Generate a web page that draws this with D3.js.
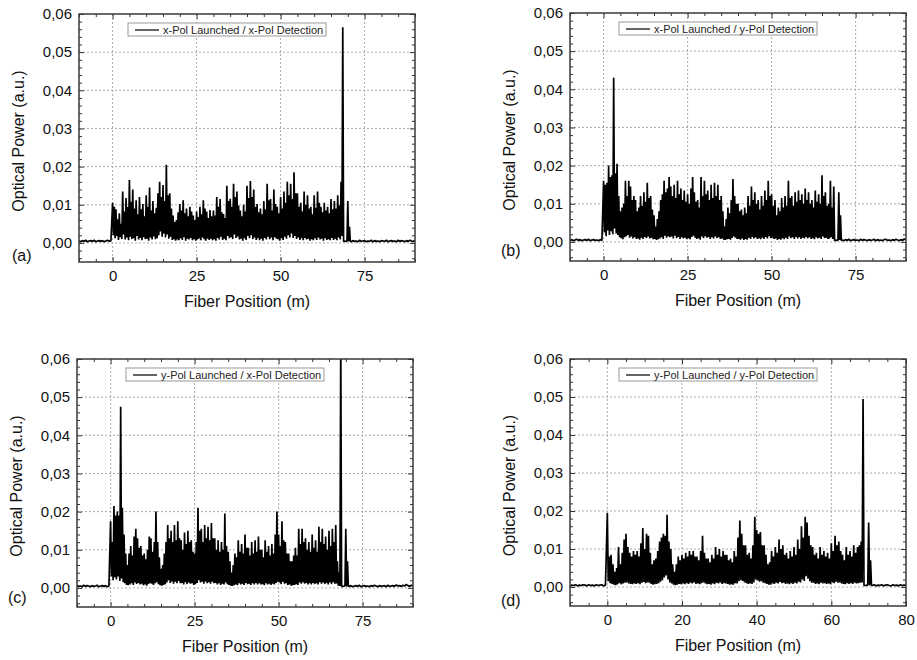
<!DOCTYPE html>
<html><head><meta charset="utf-8">
<script src="https://cdn.jsdelivr.net/npm/d3@7"></script>
<style>
body{margin:0;background:#fff;}
svg{display:block;font-family:"Liberation Sans",Arial,sans-serif;}
.grid line{stroke:#a8a8a8;stroke-width:1;stroke-dasharray:2,2;}
.ax path{stroke:none;}
.ax line{stroke:#333;stroke-width:1;}
.ax text{font-size:15px;fill:#111;}
</style></head><body>
<svg id="c" width="917" height="660"></svg>
<script>
// ---------- data ----------
const panelLabels = ["(a)", "(b)", "(c)", "(d)"];
const legendTexts = [
  "x-Pol Launched / x-Pol Detection",
  "x-Pol Launched / y-Pol Detection",
  "y-Pol Launched / x-Pol Detection",
  "y-Pol Launched / y-Pol Detection"
];
const xTitle = "Fiber Position (m)";
const yTitle = "Optical Power (a.u.)";
const yTicks = [0, 0.01, 0.02, 0.03, 0.04, 0.05, 0.06];
const xTicksABC = [0, 25, 50, 75];
const xTicksD = [0, 20, 40, 60, 80];
const xDomainABC = [-10, 90];
const xDomainD = [-10, 80];
const yDomain = [-0.005, 0.06];

// fiber trace: peaks sampled every 0.5 m from 0 m, troughs in between (0.25 m offset)
const peaksA = [
.0105,.0095,.0088,.0062,.0078,.0050,.0135,.0082,.0118,.0094,
.0165,.0108,.0140,.0090,.0112,.0075,.0120,.0088,.0102,.0070,
.0125,.0095,.0145,.0085,.0110,.0078,.0092,.0130,.0160,.0120,
.0152,.0110,.0205,.0125,.0130,.0090,.0072,.0055,.0060,.0080,
.0102,.0085,.0112,.0078,.0090,.0070,.0095,.0082,.0072,.0060,
.0082,.0068,.0095,.0075,.0112,.0090,.0082,.0065,.0086,.0070,
.0085,.0072,.0120,.0095,.0115,.0080,.0076,.0065,.0150,.0110,
.0116,.0095,.0155,.0120,.0135,.0098,.0085,.0070,.0100,.0082,
.0150,.0118,.0162,.0120,.0140,.0095,.0102,.0080,.0090,.0075,
.0110,.0088,.0155,.0112,.0115,.0085,.0140,.0102,.0095,.0078,
.0120,.0090,.0135,.0105,.0160,.0125,.0155,.0115,.0185,.0130,
.0130,.0095,.0105,.0082,.0135,.0100,.0125,.0090,.0095,.0075,
.0125,.0092,.0135,.0105,.0095,.0080,.0105,.0085,.0095,.0078,
.0115,.0088,.0110,.0090,.0125,.0098,.0160,.0565,.0005,.0004,
.0110,.0042];
const troughsA = [
.0020,.0012,.0018,.0008,.0015,.0010,.0022,.0009,.0014,.0007,
.0016,.0010,.0012,.0006,.0018,.0009,.0013,.0007,.0015,.0010,
.0011,.0006,.0014,.0009,.0017,.0010,.0012,.0020,.0030,.0016,
.0025,.0014,.0022,.0011,.0016,.0008,.0010,.0006,.0009,.0007,
.0012,.0008,.0015,.0006,.0011,.0009,.0013,.0007,.0010,.0006,
.0009,.0012,.0007,.0014,.0010,.0006,.0012,.0008,.0011,.0007,
.0010,.0006,.0013,.0009,.0016,.0008,.0011,.0007,.0018,.0012,
.0015,.0010,.0022,.0013,.0017,.0009,.0011,.0006,.0012,.0008,
.0018,.0012,.0020,.0010,.0014,.0008,.0012,.0007,.0011,.0006,
.0013,.0009,.0016,.0010,.0014,.0007,.0015,.0011,.0010,.0006,
.0012,.0008,.0016,.0011,.0020,.0014,.0025,.0013,.0018,.0010,
.0014,.0008,.0012,.0007,.0013,.0009,.0011,.0006,.0010,.0007,
.0012,.0008,.0014,.0009,.0011,.0006,.0012,.0008,.0010,.0007,
.0013,.0008,.0011,.0007,.0014,.0009,.0018,.0004,.0004,.0005,
.0004,.0005];
const preA = [.0005,.0003,.0006,.0004,.0007,.0003,.0005,.0006,.0004,.0007,.0003,.0005,.0006,.0004,.0006,.0003,.0005,.0007,.0004,.0006];
const postA = [.0003,.0006,.0004,.0005,.0003,.0007,.0004,.0005,.0006,.0003,.0005,.0004,.0007,.0003,.0006,.0004,.0005,.0003,.0006,.0005,.0004,.0007,.0003,.0005,.0006,.0004,.0005,.0003,.0007,.0004,.0006,.0005,.0003,.0006,.0004,.0007,.0005,.0004,.0006];

const peaksB = [
.0160,.0150,.0155,.0200,.0170,.0175,.0430,.0180,.0205,.0120,
.0080,.0090,.0100,.0160,.0120,.0160,.0145,.0110,.0120,.0110,
.0080,.0090,.0120,.0095,.0130,.0105,.0155,.0115,.0120,.0085,
.0070,.0040,.0060,.0080,.0110,.0125,.0160,.0130,.0140,.0170,
.0145,.0120,.0150,.0115,.0160,.0125,.0140,.0110,.0135,.0105,
.0125,.0100,.0140,.0170,.0130,.0105,.0110,.0090,.0170,.0120,
.0160,.0125,.0135,.0110,.0150,.0115,.0155,.0120,.0150,.0110,
.0120,.0080,.0040,.0060,.0090,.0075,.0110,.0165,.0120,.0100,
.0100,.0080,.0085,.0070,.0090,.0075,.0120,.0095,.0145,.0110,
.0130,.0100,.0110,.0085,.0120,.0095,.0135,.0110,.0160,.0120,
.0125,.0095,.0110,.0070,.0090,.0080,.0115,.0090,.0120,.0095,
.0160,.0115,.0120,.0095,.0130,.0105,.0135,.0110,.0125,.0100,
.0140,.0110,.0130,.0100,.0110,.0090,.0135,.0105,.0125,.0100,
.0175,.0120,.0130,.0095,.0100,.0160,.0090,.0145,.0004,.0005,
.0130,.0070];
const troughsB = [
.0025,.0015,.0030,.0018,.0028,.0020,.0035,.0022,.0018,.0012,
.0010,.0007,.0012,.0015,.0018,.0011,.0014,.0009,.0012,.0008,
.0009,.0006,.0011,.0008,.0013,.0010,.0014,.0009,.0011,.0007,
.0008,.0005,.0007,.0009,.0012,.0008,.0016,.0011,.0015,.0012,
.0014,.0009,.0016,.0010,.0013,.0008,.0012,.0009,.0011,.0007,
.0010,.0007,.0013,.0016,.0011,.0008,.0010,.0006,.0014,.0010,
.0015,.0011,.0013,.0008,.0012,.0009,.0014,.0010,.0012,.0008,
.0009,.0006,.0005,.0007,.0008,.0006,.0010,.0014,.0011,.0008,
.0008,.0006,.0009,.0005,.0008,.0006,.0011,.0008,.0013,.0009,
.0012,.0008,.0010,.0007,.0011,.0008,.0013,.0009,.0015,.0010,
.0011,.0008,.0009,.0005,.0008,.0006,.0010,.0007,.0011,.0008,
.0014,.0010,.0012,.0008,.0013,.0009,.0012,.0008,.0011,.0009,
.0013,.0009,.0012,.0008,.0010,.0007,.0012,.0009,.0011,.0008,
.0014,.0010,.0011,.0008,.0009,.0012,.0008,.0004,.0004,.0004,
.0005,.0004];
const preB = [.0004,.0006,.0003,.0005,.0007,.0004,.0006,.0003,.0005,.0006,.0004,.0007,.0003,.0005,.0006,.0004,.0005,.0003,.0006,.0004];
const postB = [.0005,.0003,.0006,.0004,.0007,.0003,.0005,.0006,.0004,.0005,.0003,.0007,.0004,.0006,.0005,.0003,.0006,.0004,.0005,.0007,.0003,.0006,.0004,.0005,.0003,.0006,.0007,.0004,.0005,.0003,.0006,.0004,.0007,.0005,.0003,.0006,.0004,.0008,.0005];

const peaksC = [
.0175,.0120,.0215,.0190,.0200,.0190,.0475,.0210,.0140,.0090,
.0060,.0090,.0110,.0085,.0135,.0155,.0130,.0105,.0110,.0085,
.0090,.0075,.0100,.0135,.0130,.0095,.0120,.0200,.0120,.0080,
.0050,.0060,.0090,.0120,.0165,.0130,.0150,.0120,.0165,.0125,
.0175,.0130,.0125,.0100,.0145,.0115,.0150,.0120,.0125,.0095,
.0090,.0120,.0210,.0150,.0155,.0120,.0165,.0130,.0160,.0125,
.0170,.0130,.0130,.0100,.0125,.0095,.0120,.0100,.0195,.0110,
.0095,.0070,.0040,.0060,.0090,.0080,.0125,.0095,.0115,.0090,
.0140,.0105,.0105,.0085,.0120,.0090,.0125,.0095,.0135,.0100,
.0100,.0080,.0125,.0095,.0110,.0085,.0115,.0090,.0140,.0200,
.0140,.0110,.0175,.0125,.0120,.0090,.0090,.0070,.0070,.0085,
.0105,.0085,.0155,.0115,.0155,.0120,.0130,.0100,.0120,.0095,
.0140,.0105,.0125,.0095,.0160,.0120,.0155,.0115,.0135,.0100,
.0150,.0110,.0155,.0120,.0165,.0070,.0040,.0650,.0004,.0005,
.0155,.0070];
const troughsC = [
.0030,.0020,.0028,.0022,.0030,.0018,.0025,.0015,.0012,.0008,
.0007,.0009,.0012,.0008,.0014,.0010,.0013,.0009,.0011,.0007,
.0009,.0006,.0010,.0012,.0011,.0008,.0012,.0015,.0010,.0007,
.0006,.0008,.0010,.0014,.0020,.0013,.0017,.0011,.0016,.0012,
.0018,.0012,.0013,.0009,.0015,.0010,.0014,.0011,.0012,.0008,
.0010,.0013,.0020,.0014,.0016,.0011,.0017,.0012,.0015,.0011,
.0016,.0012,.0013,.0009,.0012,.0008,.0011,.0009,.0014,.0010,
.0008,.0006,.0005,.0007,.0009,.0007,.0012,.0009,.0011,.0008,
.0013,.0010,.0011,.0008,.0012,.0009,.0013,.0009,.0012,.0009,
.0010,.0007,.0012,.0009,.0011,.0008,.0011,.0009,.0013,.0016,
.0014,.0010,.0016,.0011,.0012,.0008,.0009,.0006,.0007,.0008,
.0010,.0008,.0014,.0011,.0015,.0011,.0013,.0009,.0012,.0009,
.0013,.0010,.0012,.0009,.0015,.0011,.0014,.0010,.0013,.0009,
.0014,.0010,.0015,.0011,.0012,.0006,.0005,.0004,.0004,.0005,
.0004,.0005];
const preC = [.0006,.0004,.0005,.0003,.0007,.0004,.0006,.0005,.0003,.0006,.0004,.0005,.0007,.0003,.0005,.0006,.0004,.0006,.0003,.0005];
const postC = [.0004,.0006,.0003,.0005,.0006,.0004,.0007,.0003,.0005,.0006,.0004,.0005,.0003,.0006,.0004,.0007,.0005,.0003,.0006,.0004,.0005,.0006,.0003,.0007,.0004,.0005,.0006,.0004,.0008,.0005,.0006,.0004,.0007,.0005,.0009,.0006,.0004,.0007,.0005];

const peaksD = [
.0195,.0080,.0085,.0060,.0040,.0050,.0105,.0060,.0090,.0125,
.0140,.0105,.0090,.0080,.0095,.0085,.0095,.0080,.0115,.0155,
.0100,.0140,.0135,.0090,.0060,.0070,.0075,.0095,.0120,.0130,
.0140,.0135,.0190,.0120,.0100,.0060,.0040,.0060,.0080,.0070,
.0085,.0075,.0090,.0080,.0095,.0085,.0095,.0080,.0080,.0070,
.0095,.0135,.0090,.0075,.0075,.0065,.0085,.0075,.0105,.0085,
.0100,.0080,.0095,.0085,.0085,.0070,.0075,.0065,.0095,.0080,
.0130,.0175,.0140,.0110,.0110,.0085,.0090,.0075,.0110,.0185,
.0150,.0140,.0145,.0110,.0110,.0085,.0060,.0065,.0095,.0080,
.0105,.0090,.0125,.0100,.0110,.0085,.0090,.0075,.0095,.0080,
.0105,.0085,.0125,.0100,.0160,.0130,.0185,.0170,.0135,.0110,
.0105,.0085,.0090,.0075,.0105,.0085,.0095,.0080,.0090,.0075,
.0115,.0095,.0135,.0110,.0120,.0095,.0085,.0070,.0105,.0085,
.0095,.0080,.0110,.0090,.0105,.0110,.0120,.0495,.0004,.0005,
.0170,.0070];
const troughsD = [
.0015,.0010,.0008,.0006,.0005,.0007,.0010,.0007,.0009,.0011,
.0012,.0009,.0008,.0007,.0009,.0008,.0010,.0007,.0011,.0013,
.0010,.0012,.0011,.0008,.0006,.0007,.0008,.0010,.0014,.0018,
.0025,.0030,.0020,.0012,.0009,.0006,.0005,.0006,.0008,.0007,
.0009,.0007,.0010,.0008,.0011,.0009,.0012,.0008,.0009,.0007,
.0010,.0012,.0009,.0007,.0008,.0006,.0009,.0007,.0011,.0009,
.0012,.0008,.0010,.0009,.0008,.0006,.0007,.0006,.0010,.0009,
.0015,.0018,.0016,.0012,.0010,.0008,.0009,.0008,.0012,.0020,
.0017,.0014,.0015,.0011,.0010,.0008,.0006,.0006,.0009,.0008,
.0011,.0009,.0013,.0010,.0011,.0008,.0009,.0007,.0010,.0008,
.0011,.0009,.0014,.0012,.0020,.0016,.0028,.0022,.0015,.0011,
.0011,.0008,.0009,.0007,.0011,.0009,.0010,.0008,.0009,.0007,
.0012,.0010,.0014,.0011,.0012,.0009,.0008,.0007,.0010,.0008,
.0010,.0008,.0011,.0009,.0010,.0011,.0012,.0004,.0004,.0005,
.0004,.0005];
const preD = [.0003,.0005,.0004,.0006,.0003,.0005,.0004,.0006,.0005,.0003,.0006,.0004,.0005,.0003,.0006,.0004,.0005,.0006,.0003,.0005];
const postD = [.0004,.0006,.0003,.0005,.0004,.0006,.0003,.0005,.0006,.0004,.0003,.0006,.0004,.0005,.0003,.0006,.0004,.0005,.0004];

// ---------- drawing ----------
const svg = d3.select("#c");
const fmt = d3.formatLocale({decimal: ",", thousands: ".", grouping: [3], currency: ["", ""]}).format(".2f");

const panels = [
  {left: 79, top: 14, w: 336, h: 248, lab: [12, 261], pre: preA, peaks: peaksA, troughs: troughsA, post: postA, xd: xDomainABC, xt: xTicksABC},
  {left: 570, top: 13, w: 336, h: 248, lab: [501, 256], pre: preB, peaks: peaksB, troughs: troughsB, post: postB, xd: xDomainABC, xt: xTicksABC},
  {left: 77, top: 359, w: 336, h: 248, lab: [8, 603], pre: preC, peaks: peaksC, troughs: troughsC, post: postC, xd: xDomainABC, xt: xTicksABC},
  {left: 570, top: 359, w: 336, h: 247, lab: [501, 606], pre: preD, peaks: peaksD, troughs: troughsD, post: postD, xd: xDomainD, xt: xTicksD}
];

function buildSeries(p) {
  const pts = [];
  p.pre.forEach((v, i) => pts.push([-10 + i * 0.5, v]));
  p.peaks.forEach((v, i) => {
    pts.push([i * 0.5, v]);
    if (i < p.troughs.length) pts.push([i * 0.5 + 0.25, p.troughs[i]]);
  });
  p.post.forEach((v, i) => pts.push([71 + i * 0.5, v]));
  return pts;
}

panels.forEach((p, k) => {
  const g = svg.append("g").attr("transform", `translate(${p.left},${p.top})`);
  const x = d3.scaleLinear().domain(p.xd).range([0, p.w]);
  const y = d3.scaleLinear().domain(yDomain).range([p.h, 0]);

  const majorX = p.xt;
  const minorX = d3.range(p.xd[0], p.xd[1] + 0.001, 5).filter(v => !majorX.includes(v));
  const minorY = d3.range(-0.004, 0.0595, 0.002).filter(v => Math.abs(Math.round(v * 100) - v * 100) > 1e-6);

  // grid
  const grid = g.append("g").attr("class", "grid");
  grid.selectAll(".gx").data(majorX.filter(v => v > p.xd[0] && v < p.xd[1])).join("line")
    .attr("x1", d => x(d)).attr("x2", d => x(d)).attr("y1", 0).attr("y2", p.h);
  grid.selectAll(".gy").data(yTicks.filter(v => v < yDomain[1])).join("line")
    .attr("x1", 0).attr("x2", p.w).attr("y1", d => y(d)).attr("y2", d => y(d));

  // data
  const cid = "clip" + k;
  g.append("clipPath").attr("id", cid).append("rect").attr("width", p.w).attr("height", p.h);
  const line = d3.line().x(d => x(d[0])).y(d => y(d[1]));
  g.append("path").datum(buildSeries(p)).attr("clip-path", `url(#${cid})`)
    .attr("fill", "none").attr("stroke", "#000").attr("stroke-width", 1.7)
    .attr("stroke-linejoin", "bevel").attr("d", line);

  // axes: major (labels on bottom/left), minor ticks, all inward
  g.append("g").attr("class", "ax").attr("transform", `translate(0,${p.h})`)
    .call(d3.axisBottom(x).tickValues(majorX).tickSize(-5).tickPadding(8).tickFormat(d3.format("d")));
  g.append("g").attr("class", "ax").attr("transform", `translate(0,${p.h})`)
    .call(d3.axisBottom(x).tickValues(minorX).tickSize(-3).tickFormat(""));
  g.append("g").attr("class", "ax")
    .call(d3.axisTop(x).tickValues(majorX).tickSize(-5).tickFormat(""));
  g.append("g").attr("class", "ax")
    .call(d3.axisTop(x).tickValues(minorX).tickSize(-3).tickFormat(""));
  g.append("g").attr("class", "ax")
    .call(d3.axisLeft(y).tickValues(yTicks).tickSize(-5).tickPadding(7).tickFormat(fmt));
  g.append("g").attr("class", "ax")
    .call(d3.axisLeft(y).tickValues(minorY).tickSize(-3).tickFormat(""));
  g.append("g").attr("class", "ax").attr("transform", `translate(${p.w},0)`)
    .call(d3.axisRight(y).tickValues(yTicks).tickSize(-5).tickFormat(""));
  g.append("g").attr("class", "ax").attr("transform", `translate(${p.w},0)`)
    .call(d3.axisRight(y).tickValues(minorY).tickSize(-3).tickFormat(""));

  // frame
  g.append("rect").attr("width", p.w).attr("height", p.h)
    .attr("fill", "none").attr("stroke", "#3a3a3a").attr("stroke-width", 1.5);

  // legend
  const lg = g.append("g").attr("transform", `translate(49,9)`);
  lg.append("rect").attr("width", 198).attr("height", 13)
    .attr("fill", "#fff").attr("stroke", "#999").attr("stroke-width", 1);
  lg.append("line").attr("x1", 7).attr("x2", 31).attr("y1", 7).attr("y2", 7)
    .attr("stroke", "#111").attr("stroke-width", 1.3);
  lg.append("text").attr("x", 35).attr("y", 10.8).attr("font-size", 11).attr("fill", "#222")
    .text(legendTexts[k]);

  // axis titles
  g.append("text").attr("x", p.w / 2).attr("y", p.h + 45).attr("text-anchor", "middle")
    .attr("font-size", 16).attr("fill", "#111").text(xTitle);
  g.append("text").attr("transform", `translate(-55,${p.h / 2 + 3}) rotate(-90)`)
    .attr("text-anchor", "middle").attr("font-size", 16).attr("fill", "#111").text(yTitle);

  // panel label
  svg.append("text").attr("x", p.lab[0]).attr("y", p.lab[1]).attr("font-size", 16)
    .attr("fill", "#111").text(panelLabels[k]);
});
</script>
</body></html>
